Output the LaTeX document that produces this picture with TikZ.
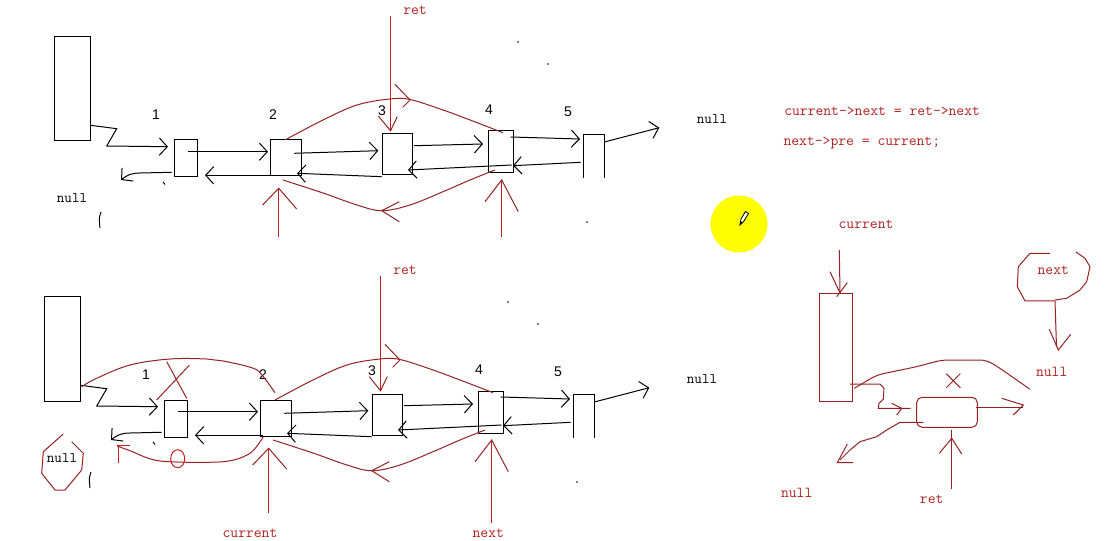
\documentclass[tikz,border=0pt]{standalone}
\usepackage{fontspec}
\newfontfamily\digitfont{Liberation Sans}
\usetikzlibrary{arrows.meta,fit}
\definecolor{linered}{RGB}{205,30,30}
\definecolor{curvered}{RGB}{150,35,35}
\definecolor{textred}{RGB}{178,34,34}
\definecolor{sunny}{RGB}{255,255,0}
\tikzset{
 bx/.style={draw=black,line width=0.75pt,inner sep=0pt},
 rbx/.style={draw=curvered,line width=0.75pt,inner sep=0pt},
 ln/.style={draw=black,line width=0.75pt},
 rl/.style={draw=linered,line width=0.75pt},
 rc/.style={draw=curvered,line width=0.75pt},
 hd/.style={-{Straight Barb[length=6pt,width=13pt]}},
 lbl/.style={font=\ttfamily\fontsize{11}{13}\selectfont,text=black,inner sep=0pt},
 rtxt/.style={font=\ttfamily\fontsize{11.4}{13}\selectfont,text=textred,inner sep=0pt},
 num/.style={font=\digitfont\fontsize{10.5}{12}\selectfont,text=black,inner sep=0pt},
 chain/.pic={
  % boxes
  \node[bx,fit={(54,37) (90,141)}] (-head) {};
  \node[bx,fit={(174,140) (197,177)}] (-n1) {};
  \node[bx,fit={(270,140) (301,176)}] (-n2) {};
  \node[bx,fit={(382,134) (412,175)}] (-n3) {};
  \node[bx,fit={(488,131) (513,173)}] (-n4) {};
  \node[inner sep=0pt,fit={(584,135) (604,178)}] (-n5) {};
  \draw[ln] (-n5.south west) |- (-n5.north east) -- (-n5.south east);
  % labels
  \node[num] (-l1) at (156,115) {1};
  \node[num] (-l2) at (273,115) {2};
  \node[num] (-l3) at (382,111) {3};
  \node[num] (-l4) at (489,110) {4};
  \node[num] (-l5) at (568,112) {5};
  \node[lbl] (-nullL) at (72,197.7) {null};
  \node[lbl] (-nullR) at (712,119) {null};
  % arrows
  \draw[ln,hd] (90.7,125.3) -- (116.7,128.7) -- (106.7,146) -- (168,146.7);
  \draw[ln,hd] (187.7,151.7) -- (268,151.7);
  \draw[ln,hd] (273,175.3) -- (205,175.3);
  \draw[ln,hd] (171.7,172.3) -- (140,173) to[out=180,in=40] (121,180);
  \draw[ln,hd] (294.3,153.3) -- (378.3,150.7);
  \draw[ln,hd] (381.7,176.7) -- (297,173.3);
  \draw[ln,hd] (414,145.7) -- (483,144);
  \draw[ln,hd] (511.7,165) -- (408,170);
  \draw[ln,hd] (510.7,137) -- (580,139);
  \draw[ln,hd] (580.7,162.3) -- (513,165.7);
  \draw[ln,hd] (604.3,142) -- (659.3,127.7);
  % stray marks
  \draw[ln] (101,212) .. controls (99,218) .. (100,228);
  \draw[ln] (163,182) -- (165,184.5);
  \fill (518,42) circle (0.8);
  \fill (548,64) circle (0.8);
  \fill (587,222) circle (0.8);
 }
}
\begin{document}
\begin{tikzpicture}[x=0.75pt,y=-0.75pt]
\useasboundingbox (0,0) rectangle (1105,541);
\fill[white] (0,0) rectangle (1105,541);

\pic (top) at (0,0) {chain};
\pic (bot) at (-10,260) {chain};

% ---------- top diagram red marks ----------
\node[rtxt] (retA) at (415,10.7) {ret};
\draw[rl] (390.7,16) -- (390.7,130.7);
\draw[rc] (378.3,116) -- (390.5,130.7) -- (397.3,116.7);
\draw[rc] plot[smooth,tension=0.6] coordinates {(285,140) (323,120) (357,105) (390,99) (410,99.5) (443,110) (470,120) (503,132.7)};
\draw[rc] (395,84.3) -- (410,100) -- (402.7,107.3);
\draw[rc] plot[smooth,tension=0.6] coordinates {(283,180) (323,193) (357,205) (381.7,210.7) (410,205) (443,191.7) (470,180) (495,170)};
\draw[rc] (399.3,201.7) -- (381.7,210.7) -- (399.3,221.7);
\draw[rl] (278.7,236.7) -- (278.7,188.3);
\draw[rc] (262.7,205) -- (278.7,188.3) -- (296.7,209);
\draw[rl] (501.7,236.7) -- (501.7,180);
\draw[rc] (485,201.7) -- (501.7,180) -- (518.3,211.7);

% ---------- formulas ----------
\node[rtxt,anchor=west] (f1) at (784,111.7) {current->next = ret->next};
\node[rtxt,anchor=west] (f2) at (783.3,143.3) {next->pre = current;};

% ---------- yellow cursor ----------
\fill[sunny] (739,224) circle (28.5);
\filldraw[fill=white,draw=black,line width=0.6pt] (740,225) -- (741,219) -- (745.5,211.5) -- (748.5,213.5) -- (744,221) -- cycle;
\fill[black] (740,225) -- (740.7,221.3) -- (742.9,222.7) -- cycle;

% ---------- right panel ----------
\node[rtxt] (curT) at (866,224) {current};
\draw[rc] (839.3,250) -- (840,293.3);
\draw[rc] (830,271.7) -- (840,293);
\draw[rc] (836.7,296.7) -- (847.3,282.7);
\node[rbx,fit={(819.3,293.3) (852.3,401.3)}] (curbox) {};
\draw[rc] (850,384) -- (880,384) -- (884,388.3) -- (883.3,399.3) -- (879,403.3) -- (878.3,408.3) -- (910.7,408.3);
\draw[rc] (891.7,403.3) -- (901.7,408.3) -- (896.7,415);
\node[rbx,rounded corners=4pt,fit={(916.7,397.3) (977.3,427.3)}] (retbox) {};
\draw[rc] (976,407.3) -- (1023.3,407.3);
\draw[rc] (1001.7,398.3) -- (1023.3,405) -- (1013.3,415);
\draw[rc] (923.3,422.3) -- (900,422.3) -- (886.7,430) -- (876.7,436.7) -- (860,441.7) -- (850,450) -- (840,460);
\draw[rc] (847.3,444) -- (837.3,462.7) -- (853.3,462.7);
\node[rtxt] (nullP1) at (796.7,493.3) {null};
\draw[rc] (951.7,489.3) -- (951.7,430);
\draw[rc] (939.3,453.3) -- (951.7,438.3) -- (961.7,454);
\node[rtxt] (retP) at (931.7,499.3) {ret};
\draw[rc] (946.3,373.7) -- (960.3,387.7);
\draw[rc] (960.3,373.7) -- (946.3,387.7);
\draw[rc,rounded corners=5pt] (854.3,388.3) -- (876.7,375) -- (916.7,366.7) -- (941.7,360) -- (986.7,360) -- (1000,368.3) -- (1030,389.3);
\draw[rc] (1050,253.3) -- (1030,253.3) -- (1018.3,266.7) -- (1017.3,286.7) -- (1025,301) -- (1055,301);
\draw[rc] (1055,300) -- (1066.7,298.3) -- (1080,290) -- (1086.7,281.7) -- (1090,266.7) -- (1085,258.3) -- (1076,252);
\node[rtxt] (nextP) at (1053.3,270) {next};
\draw[rc] (1055,301) -- (1056.5,347);
\draw[rc] (1049.3,329.3) -- (1058.3,350) -- (1070.7,334.3);
\node[rtxt] (nullP2) at (1051.7,371.7) {null};

% ---------- bottom diagram red marks ----------
\node[rtxt] (retB) at (405,270.7) {ret};
\draw[rl] (380.7,276) -- (380.7,390.7);
\draw[rc] (369.3,376.7) -- (380.5,390.7) -- (387.3,376.7);
\draw[rc] plot[smooth,tension=0.6] coordinates {(275,400) (313,380) (347,365) (380,359) (400,359.5) (433,370) (460,380) (493,392.7)};
\draw[rc] (385,344.3) -- (400,360) -- (392.7,367.3);
\draw[rc] plot[smooth,tension=0.6] coordinates {(273,440) (313,453) (347,465) (371.7,470.7) (400,465) (433,451.7) (460,440) (485,430)};
\draw[rc] (389.3,461.7) -- (371.7,470.7) -- (389.3,481.7);
\draw[rl] (268.7,513.3) -- (268.7,448.3);
\draw[rc] (252.7,465) -- (268.7,448.3) -- (286.7,469);
\node[rtxt] (curB) at (250,533.3) {current};
\draw[rl] (491.7,523.3) -- (491.7,440);
\draw[rc] (475,461.7) -- (491.7,440) -- (508.3,471.7);
\node[rtxt] (nextB) at (488.3,533.3) {next};
% extra red on the left
\draw[rc] plot[smooth,tension=0.6] coordinates {(81.7,386.7) (96.7,378.3) (130,365) (170,359) (206.7,359) (223.3,361) (253.3,368.3) (263.3,376.7) (275,392.7)};
\draw[rc] (166.7,361.7) -- (186.7,398.3);
\draw[rc] (156.7,400) -- (189.3,365.3);
\draw[rc] plot[smooth,tension=0.5] coordinates {(117.3,446) (130,450.7) (160,461) (223.3,461.7) (250,453.3) (263.3,436.7)};
\draw[rl] (118.3,462.7) -- (118.3,445);
\draw[rl] (116.7,445) -- (130,445);
\draw[rl] (177.7,458.7) ellipse (7 and 9);
\draw[rc] (63.3,434) -- (43.3,451.7) -- (41.7,473.3) -- (55,490) -- (65,490) -- (81.7,470) -- (83.3,453.3) -- (71.7,441.7);
\end{tikzpicture}
\end{document}
